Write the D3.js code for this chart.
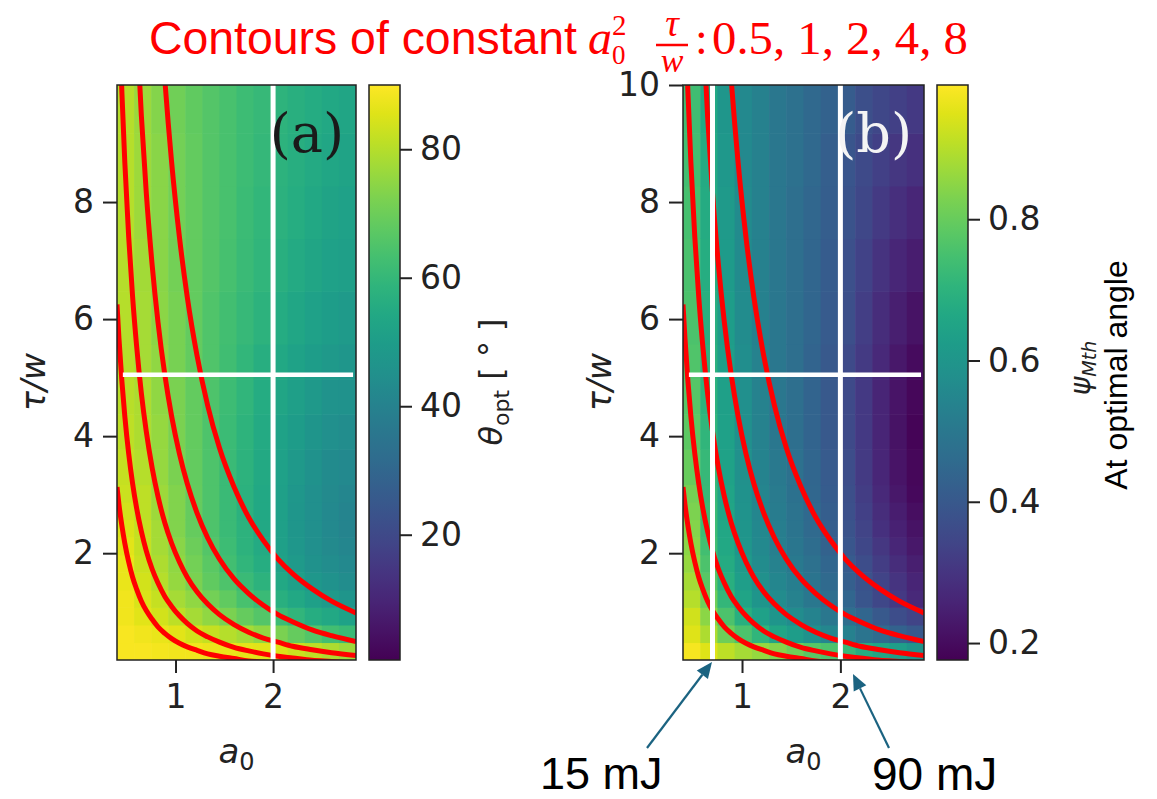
<!DOCTYPE html>
<html>
<head>
<meta charset="utf-8">
<script src="https://cdn.jsdelivr.net/npm/d3@7"></script>
<style>
  body { margin: 0; background: #fff; }
  svg { display: block; }
  text { font-family: "DejaVu Sans", sans-serif; }
</style>
</head>
<body>
<svg id="chart" width="1157" height="799"></svg>
<script>
// grid edges of the pcolormesh (a0 columns, tau/w rows)
const a0Edges = [0.4, 0.575, 0.75, 0.925, 1.1, 1.275, 1.45, 1.625, 1.8, 1.975, 2.15, 2.325, 2.5, 2.675, 2.85];
const tauEdges = [0.175, 0.475, 0.775, 1.075, 1.375, 1.675, 1.975, 2.275, 2.575, 2.875, 3.175,
                  3.775, 4.375, 4.975, 5.575, 6.475, 7.375, 8.275, 9.175, 10];

// theta_opt in degrees, rows from bottom (small tau/w) to top
const thetaOpt = [
  [89, 89, 88.5, 88, 88, 87.5, 87, 86.5, 86, 85, 83, 81, 79, 77],
  [89, 88, 87, 86, 84, 82, 80, 78, 75, 72, 69, 66, 63, 61],
  [88, 86, 84, 81, 78, 75, 72, 69, 66, 62, 59, 56, 54, 52],
  [88, 85, 82, 78, 75, 71, 68, 64, 61, 57, 54, 51, 49, 47],
  [87, 84, 80, 76, 72, 68, 65, 61, 58, 54, 51, 48, 46, 44],
  [87, 83, 79, 75, 71, 67, 63, 59, 56, 52, 49, 46, 44, 42.5],
  [86, 82, 78, 74, 70, 66, 62, 58, 55, 51, 48, 45, 43, 41.5],
  [85, 82, 78, 73, 69, 65, 61, 58, 54, 51, 47.5, 45, 42.5, 41],
  [84, 81, 77, 73, 69, 65, 61, 57.5, 54, 51, 47.5, 45, 42.5, 41],
  [83, 81, 77, 73, 69, 65, 61, 57.5, 54, 51, 48, 45, 43, 41.5],
  [82, 80, 76, 72, 68.5, 65, 61, 58, 54.5, 51.5, 48.5, 46, 43.5, 42.5],
  [81, 79, 76, 72, 68.5, 65, 61.5, 58.5, 55, 52, 49.5, 47, 45, 44],
  [80.5, 79, 75, 72, 68.5, 65, 62, 59, 55.5, 53, 50.5, 48.5, 46.5, 46],
  [80, 78, 75, 71.5, 68.5, 65.5, 62.5, 59.5, 56.5, 54, 52, 50, 48.5, 47.5],
  [80, 78, 74.5, 71.5, 68.5, 65.5, 63, 60.5, 58, 55.5, 53.5, 51.5, 50, 49],
  [80, 77.5, 74, 71, 68.5, 66, 63.5, 61, 59, 57, 55, 53, 51.5, 50.5],
  [80, 77, 74, 71, 68.5, 66, 64, 61.5, 59.5, 57.5, 56, 54, 52.5, 51.5],
  [80, 77, 74, 71, 68.5, 66, 64, 62, 60, 58, 56.5, 55, 53.5, 52.5],
  [80, 76.5, 73.5, 70.5, 68, 66, 64, 62, 60.5, 58.5, 57, 55.5, 54, 53]
];

// psi_Mth at optimal angle, same grid
const psiMth = [
  [0.98, 0.95, 0.91, 0.88, 0.86, 0.84, 0.81, 0.78, 0.76, 0.72, 0.68, 0.655, 0.63, 0.60],
  [0.95, 0.89, 0.81, 0.76, 0.71, 0.655, 0.625, 0.59, 0.55, 0.53, 0.49, 0.46, 0.43, 0.40],
  [0.93, 0.85, 0.76, 0.69, 0.64, 0.60, 0.57, 0.54, 0.50, 0.47, 0.44, 0.40, 0.365, 0.34],
  [0.90, 0.81, 0.715, 0.65, 0.60, 0.57, 0.535, 0.50, 0.47, 0.44, 0.39, 0.35, 0.31, 0.27],
  [0.88, 0.78, 0.69, 0.63, 0.585, 0.55, 0.52, 0.49, 0.455, 0.42, 0.38, 0.34, 0.30, 0.26],
  [0.86, 0.76, 0.675, 0.615, 0.57, 0.535, 0.505, 0.475, 0.44, 0.405, 0.365, 0.32, 0.28, 0.245],
  [0.85, 0.745, 0.665, 0.605, 0.56, 0.525, 0.495, 0.465, 0.43, 0.395, 0.35, 0.305, 0.265, 0.23],
  [0.84, 0.735, 0.66, 0.60, 0.555, 0.52, 0.49, 0.455, 0.42, 0.385, 0.34, 0.29, 0.25, 0.215],
  [0.83, 0.73, 0.655, 0.595, 0.55, 0.515, 0.485, 0.45, 0.415, 0.375, 0.33, 0.28, 0.24, 0.205],
  [0.82, 0.725, 0.65, 0.59, 0.545, 0.51, 0.48, 0.445, 0.41, 0.37, 0.32, 0.27, 0.23, 0.195],
  [0.80, 0.72, 0.645, 0.585, 0.54, 0.505, 0.475, 0.44, 0.405, 0.365, 0.315, 0.265, 0.22, 0.19],
  [0.785, 0.71, 0.64, 0.58, 0.535, 0.50, 0.47, 0.435, 0.40, 0.36, 0.31, 0.26, 0.215, 0.185],
  [0.775, 0.70, 0.635, 0.58, 0.535, 0.50, 0.47, 0.435, 0.40, 0.36, 0.31, 0.26, 0.22, 0.19],
  [0.765, 0.695, 0.63, 0.575, 0.535, 0.50, 0.47, 0.435, 0.40, 0.36, 0.315, 0.27, 0.23, 0.20],
  [0.76, 0.69, 0.625, 0.57, 0.53, 0.50, 0.47, 0.44, 0.405, 0.37, 0.325, 0.28, 0.245, 0.215],
  [0.755, 0.68, 0.62, 0.565, 0.53, 0.50, 0.47, 0.44, 0.41, 0.375, 0.335, 0.295, 0.265, 0.24],
  [0.75, 0.675, 0.615, 0.565, 0.53, 0.50, 0.47, 0.445, 0.415, 0.385, 0.35, 0.315, 0.285, 0.265],
  [0.745, 0.67, 0.61, 0.56, 0.53, 0.50, 0.475, 0.45, 0.42, 0.39, 0.36, 0.33, 0.305, 0.29],
  [0.74, 0.665, 0.605, 0.56, 0.53, 0.50, 0.475, 0.45, 0.43, 0.41, 0.37, 0.35, 0.33, 0.31]
];

// contour lines of constant a0^2 tau/w, sampled along a0
const contourA0 = [0.40, 0.42, 0.45, 0.48, 0.52, 0.56, 0.60, 0.65, 0.70, 0.76, 0.82, 0.89, 0.96,
                   1.04, 1.12, 1.22, 1.33, 1.45, 1.60, 1.75, 1.90, 2.05, 2.20, 2.40, 2.60, 2.85];
const contourLevels = [0.5, 1, 2, 4, 8];
const contourTau = [
  [3.13, 2.83, 2.47, 2.17, 1.85, 1.59, 1.39, 1.18, 1.02, 0.87, 0.74, 0.63, 0.54, 0.46, 0.40, 0.34, 0.28, 0.24, 0.20, 0.16, 0.14, 0.12, 0.10, 0.09, 0.07, 0.06],
  [6.25, 5.67, 4.94, 4.34, 3.70, 3.19, 2.78, 2.37, 2.04, 1.73, 1.49, 1.26, 1.09, 0.93, 0.80, 0.67, 0.57, 0.48, 0.39, 0.33, 0.28, 0.24, 0.21, 0.17, 0.15, 0.12],
  [12.5, 11.34, 9.88, 8.68, 7.40, 6.38, 5.56, 4.73, 4.08, 3.46, 2.97, 2.52, 2.17, 1.85, 1.59, 1.34, 1.13, 0.95, 0.78, 0.65, 0.55, 0.48, 0.41, 0.35, 0.30, 0.25],
  [25, 22.68, 19.75, 17.36, 14.79, 12.76, 11.11, 9.47, 8.16, 6.93, 5.95, 5.05, 4.34, 3.70, 3.19, 2.69, 2.26, 1.90, 1.56, 1.31, 1.11, 0.95, 0.83, 0.69, 0.59, 0.49],
  [50, 45.35, 39.51, 34.72, 29.59, 25.51, 22.22, 18.93, 16.33, 13.85, 11.90, 10.10, 8.68, 7.40, 6.38, 5.38, 4.52, 3.80, 3.13, 2.61, 2.22, 1.90, 1.65, 1.39, 1.18, 0.98]
];

// white guide lines
const guideTau = 5.05;
const guideA0a = [2.0];
const guideA0b = [0.70, 2.0];

const xTicks = [1, 2];
const yTicksA = [2, 4, 6, 8];
const yTicksB = [2, 4, 6, 8, 10];
const thetaTicks = [20, 40, 60, 80];
const psiTicks = [0.2, 0.4, 0.6, 0.8];

const svg = d3.select("#chart");
const defs = svg.append("defs");

function panel(opt) {
  const x = d3.scaleLinear().domain([0.4, 2.85]).range([opt.left, opt.right]);
  const y = d3.scaleLinear().domain([0.175, 10]).range([660, 85]);
  const color = d3.scaleSequential(d3.interpolateViridis).domain(opt.cdomain);

  defs.append("clipPath").attr("id", "clip-" + opt.id)
    .append("rect").attr("x", opt.left).attr("y", 85)
    .attr("width", opt.right - opt.left).attr("height", 575);

  const g = svg.append("g").attr("clip-path", "url(#clip-" + opt.id + ")");

  // heatmap cells
  const cells = [];
  opt.values.forEach((row, i) => row.forEach((v, j) => cells.push({i, j, v})));
  g.selectAll("rect.cell").data(cells).join("rect")
    .attr("class", "cell")
    .attr("x", d => x(a0Edges[d.j]))
    .attr("y", d => y(tauEdges[d.i + 1]))
    .attr("width", d => x(a0Edges[d.j + 1]) - x(a0Edges[d.j]) + 0.6)
    .attr("height", d => y(tauEdges[d.i]) - y(tauEdges[d.i + 1]) + 0.6)
    .attr("fill", d => color(d.v));

  // contours
  const line = d3.line().x(d => x(d[0])).y(d => y(d[1])).curve(d3.curveMonotoneX);
  contourTau.forEach(taus => {
    g.append("path")
      .datum(contourA0.map((a, k) => [a, taus[k]]))
      .attr("fill", "none")
      .attr("stroke", "#ff0000")
      .attr("stroke-width", 5)
      .attr("d", line);
  });

  // white guides
  g.append("line")
    .attr("x1", x(0.46)).attr("x2", x(2.82))
    .attr("y1", y(guideTau)).attr("y2", y(guideTau))
    .attr("stroke", "#fff").attr("stroke-width", 4.5);
  opt.guides.forEach(a => {
    g.append("line")
      .attr("x1", x(a)).attr("x2", x(a))
      .attr("y1", 85).attr("y2", 660)
      .attr("stroke", "#fff").attr("stroke-width", 5);
  });

  // panel letter
  g.append("text")
    .attr("x", opt.right - 12).attr("y", 152)
    .attr("text-anchor", "end")
    .style("font-family", "'DejaVu Serif', 'Liberation Serif', serif")
    .style("font-size", "54px")
    .attr("fill", opt.letterColor)
    .text(opt.letter);

  // frame
  svg.append("rect")
    .attr("x", opt.left).attr("y", 85)
    .attr("width", opt.right - opt.left).attr("height", 575)
    .attr("fill", "none").attr("stroke", "#222").attr("stroke-width", 1.5);

  // axes
  const xa = svg.append("g").attr("transform", "translate(0,660)")
    .call(d3.axisBottom(x).tickValues(xTicks).tickSize(13).tickPadding(12).tickFormat(d3.format("d")));
  const ya = svg.append("g").attr("transform", "translate(" + opt.left + ",0)")
    .call(d3.axisLeft(y).tickValues(opt.yTicks).tickSize(14).tickPadding(9).tickFormat(d3.format("d")));
  [xa, ya].forEach(a => {
    a.select(".domain").remove();
    a.selectAll(".tick line").attr("stroke", "#222").attr("stroke-width", 2);
    a.selectAll(".tick text").attr("fill", "#222")
      .style("font-family", "'DejaVu Sans', sans-serif").style("font-size", "33px");
  });

  // axis labels
  const xl = svg.append("text")
    .attr("x", (opt.left + opt.right) / 2).attr("y", 763)
    .attr("text-anchor", "middle").attr("fill", "#222")
    .style("font-size", "34px");
  xl.append("tspan").style("font-style", "italic").text("a");
  xl.append("tspan").attr("dy", 7).style("font-size", "24px").text("0");

  svg.append("text")
    .attr("transform", "translate(" + (opt.left - 72) + ",382) rotate(-90)")
    .attr("text-anchor", "middle").attr("fill", "#222")
    .style("font-size", "33px").style("font-style", "italic")
    .text("τ/w");

  // colorbar
  const cbx = opt.cbx, cbw = 31;
  const cy = d3.scaleLinear().domain(opt.cdomain).range([660, 85]);
  const gradId = "grad-" + opt.id;
  const grad = defs.append("linearGradient").attr("id", gradId)
    .attr("x1", "0%").attr("x2", "0%").attr("y1", "100%").attr("y2", "0%");
  d3.range(0, 1.0001, 0.05).forEach(t => {
    grad.append("stop").attr("offset", (t * 100) + "%").attr("stop-color", d3.interpolateViridis(t));
  });
  svg.append("rect")
    .attr("x", cbx).attr("y", 85).attr("width", cbw).attr("height", 575)
    .attr("fill", "url(#" + gradId + ")")
    .attr("stroke", "#222").attr("stroke-width", 1.5);
  const ca = svg.append("g").attr("transform", "translate(" + (cbx + cbw) + ",0)")
    .call(d3.axisRight(cy).tickValues(opt.cticks).tickSize(12).tickPadding(8).tickFormat(opt.cformat));
  ca.select(".domain").remove();
  ca.selectAll(".tick line").attr("stroke", "#222").attr("stroke-width", 2);
  ca.selectAll(".tick text").attr("fill", "#222")
    .style("font-family", "'DejaVu Sans', sans-serif").style("font-size", "33px");

  return {x, y};
}

panel({
  id: "a", left: 117, right: 356, values: thetaOpt, cdomain: [0.5, 90],
  guides: guideA0a, yTicks: yTicksA, letter: "(a)", letterColor: "#1a1a1a",
  cbx: 369, cticks: thetaTicks, cformat: d3.format("d")
});
panel({
  id: "b", left: 683, right: 924, values: psiMth, cdomain: [0.176, 0.99],
  guides: guideA0b, yTicks: yTicksB, letter: "(b)", letterColor: "#f4f4f4",
  cbx: 937, cticks: psiTicks, cformat: d3.format(".1f")
});

// colorbar labels
const tl = svg.append("text")
  .attr("transform", "translate(502,382) rotate(-90)")
  .attr("text-anchor", "middle").attr("fill", "#222").style("font-size", "32px");
tl.append("tspan").style("font-style", "italic").text("θ");
tl.append("tspan").attr("dy", 7).style("font-size", "22px").text("opt");
tl.append("tspan").attr("dy", -7).text(" [ ° ]");

const pl = svg.append("text")
  .attr("transform", "translate(1090,368) rotate(-90)")
  .attr("text-anchor", "middle").attr("fill", "#222").style("font-size", "28px");
pl.append("tspan").style("font-style", "italic").text("ψ");
pl.append("tspan").attr("dy", 6).style("font-size", "19px").style("font-style", "italic").text("Mth");

svg.append("text")
  .attr("transform", "translate(1127,375) rotate(-90)")
  .attr("text-anchor", "middle").attr("fill", "#000")
  .style("font-family", "'Liberation Sans', Arial, sans-serif").style("font-size", "32px")
  .text("At optimal angle");

// title
const red = "#ff0000";
const serif = "'Liberation Serif', 'DejaVu Serif', serif";
svg.append("text").attr("x", 149).attr("y", 54).attr("fill", red)
  .attr("textLength", 428).attr("lengthAdjust", "spacingAndGlyphs")
  .style("font-family", "'Liberation Sans', Arial, sans-serif").style("font-size", "46px")
  .text("Contours of constant");
svg.append("text").attr("x", 588).attr("y", 54).attr("fill", red)
  .style("font-family", serif).style("font-style", "italic").style("font-size", "48px").text("a");
svg.append("text").attr("x", 612).attr("y", 35).attr("fill", red)
  .style("font-family", serif).style("font-size", "29px").text("2");
svg.append("text").attr("x", 612).attr("y", 64).attr("fill", red)
  .style("font-family", serif).style("font-size", "27px").text("0");
svg.append("text").attr("x", 672).attr("y", 36).attr("fill", red).attr("text-anchor", "middle")
  .style("font-family", serif).style("font-style", "italic").style("font-size", "38px").text("τ");
svg.append("line").attr("x1", 656).attr("x2", 688).attr("y1", 45).attr("y2", 45)
  .attr("stroke", red).attr("stroke-width", 2.5);
svg.append("text").attr("x", 672).attr("y", 72).attr("fill", red).attr("text-anchor", "middle")
  .style("font-family", serif).style("font-style", "italic").style("font-size", "34px").text("w");
svg.append("text").attr("x", 695).attr("y", 54).attr("fill", red)
  .style("font-family", serif).style("font-size", "46px").text(":");
svg.append("text").attr("x", 712).attr("y", 54).attr("fill", red)
  .attr("textLength", 256).attr("lengthAdjust", "spacingAndGlyphs")
  .style("font-family", serif).style("font-size", "46px")
  .text(contourLevels.join(", "));

// energy annotations
const arrowColor = "#1b6381";
function arrow(x1, y1, x2, y2) {
  const ang = Math.atan2(y2 - y1, x2 - x1), L = 16, W = 7;
  const bx = x2 - L * Math.cos(ang), by = y2 - L * Math.sin(ang);
  svg.append("line").attr("x1", x1).attr("y1", y1).attr("x2", bx).attr("y2", by)
    .attr("stroke", arrowColor).attr("stroke-width", 2.2);
  svg.append("path")
    .attr("d", d3.line()([[x2, y2],
      [bx + W * Math.sin(ang), by - W * Math.cos(ang)],
      [bx - W * Math.sin(ang), by + W * Math.cos(ang)]]) + "Z")
    .attr("fill", arrowColor);
}
arrow(647, 748, 712, 662);
arrow(889, 748, 853, 674);

svg.append("text").attr("x", 540).attr("y", 789).attr("fill", "#000")
  .style("font-family", "'Liberation Sans', Arial, sans-serif").style("font-size", "45px")
  .text("15 mJ");
svg.append("text").attr("x", 872).attr("y", 790).attr("fill", "#000")
  .style("font-family", "'Liberation Sans', Arial, sans-serif").style("font-size", "46px")
  .text("90 mJ");
</script>
</body>
</html>
